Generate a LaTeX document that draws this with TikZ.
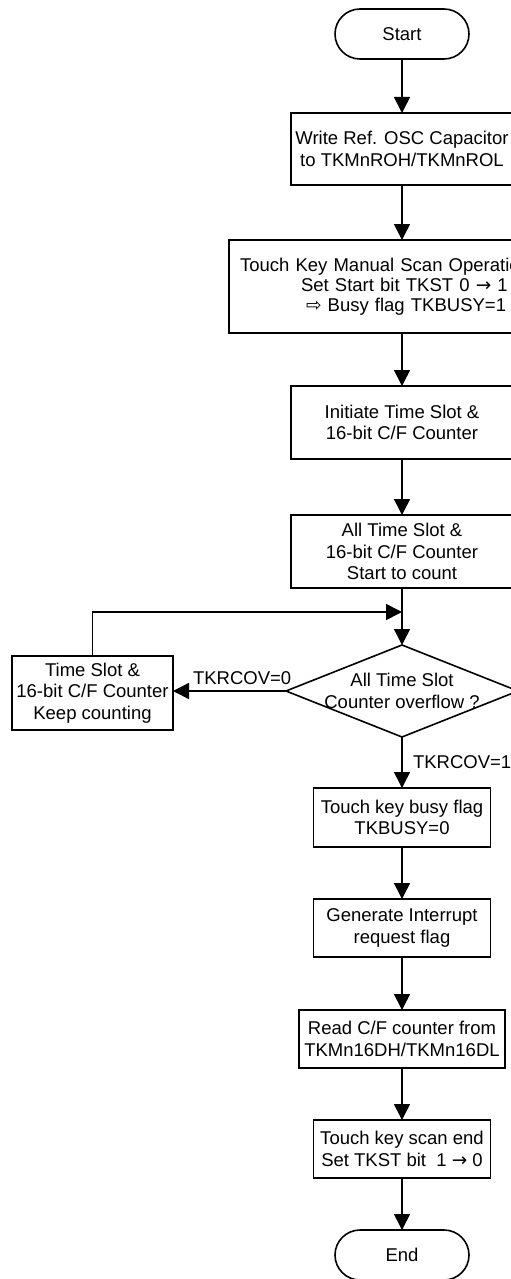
\documentclass[tikz,border=0pt]{standalone}
\usepackage{fontspec}
\setmainfont{Liberation Sans}
\newfontfamily\symfont{DejaVu Sans}
\usetikzlibrary{shapes.geometric,arrows.meta}
\begin{document}
\begin{tikzpicture}[x=1pt,y=-1pt,
  font=\fontsize{18.5}{21.5}\selectfont,
  every node/.style={inner sep=0pt, outer sep=0pt},
  box/.style={draw, line width=1.6pt, align=center},
  term/.style={draw, line width=1.6pt, rounded corners=25pt},
  flow/.style={line width=1.6pt, -{Triangle[length=16pt,width=16pt]}},
  lbl/.style={font=\fontsize{18.5}{21.5}\selectfont}]
\clip (0,0) rectangle (511,1279);
\fill[white] (0,0) rectangle (511,1279);

\node[term, minimum width=134pt, minimum height=50pt] (start) at (402,34) {Start};
\node[box, minimum width=222pt, minimum height=72pt] (write) at (402,149) {Write Ref. OSC Capacitor\\to TKMnROH/TKMnROL};
\node[box, minimum width=346pt, minimum height=93pt, text width=324pt, align=left, font=\fontsize{18.5}{20}\selectfont] (scan) at (402,286.5)
  {Touch Key Manual Scan Operation\\\hspace*{61pt}Set Start bit TKST 0 {\symfont\char"2192} 1\\\hspace*{66pt}{\symfont\char"21E8} Busy flag TKBUSY=1};
\node[box, minimum width=222pt, minimum height=73pt] (init) at (402,422.5) {Initiate Time Slot \&\\16-bit C/F Counter};
\node[box, minimum width=222pt, minimum height=73pt] (all) at (402,551.5) {All Time Slot \&\\16-bit C/F Counter\\Start to count};
\coordinate (join) at (402,612);
\node[diamond, draw, line width=1.6pt, minimum width=232pt, minimum height=92pt] (dec) at (402,691) {};
\node[align=center] (dectext) at (402,691) {All Time Slot\\Counter overflow ?};
\node[box, minimum width=161pt, minimum height=74pt] (keep) at (92.5,693) {Time Slot \&\\16-bit C/F Counter\\Keep counting};
\node[box, minimum width=177pt, minimum height=59pt] (busy) at (402,817.5) {Touch key busy flag\\TKBUSY=0};
\node[box, minimum width=177pt, minimum height=58pt] (gen) at (402,928) {Generate Interrupt\\request flag};
\node[box, minimum width=206pt, minimum height=58pt] (read) at (402,1039) {Read C/F counter from\\TKMn16DH/TKMn16DL};
\node[box, minimum width=177pt, minimum height=58pt] (send) at (402,1149) {Touch key scan end\\Set TKST bit\ \ 1 {\symfont\char"2192} 0};
\node[term, minimum width=134pt, minimum height=50pt] (end) at (402,1255) {End};

\node[lbl, anchor=west] (l0) at (193,678) {TKRCOV=0};
\node[lbl, anchor=west] (l1) at (413,762) {TKRCOV=1};

\draw[flow] (start) -- (write);
\draw[flow] (write) -- (scan);
\draw[flow] (scan) -- (init);
\draw[flow] (init) -- (all);
\draw[line width=1.6pt] (all) -- (join);
\draw[flow] (join) -- (dec.north);
\draw[flow] (dec.west) -- (dec.west -| keep.east);
\draw[flow] (keep.north) |- (join);
\draw[flow] (dec.south) -- (busy.north);
\draw[flow] (busy) -- (gen);
\draw[flow] (gen) -- (read);
\draw[flow] (read) -- (send);
\draw[flow] (send) -- (end);
\end{tikzpicture}
\end{document}
